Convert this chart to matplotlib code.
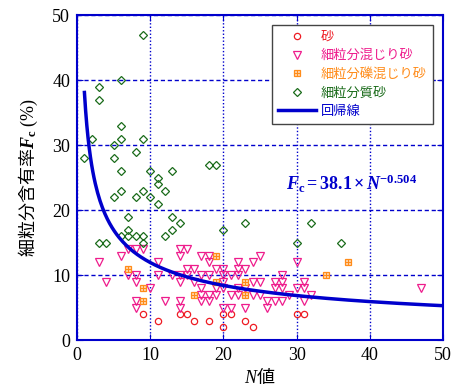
import numpy as np
import matplotlib
matplotlib.use("Agg")
import matplotlib.pyplot as plt
from matplotlib.lines import Line2D

plt.rcParams["font.family"] = ["Liberation Serif", "Noto Sans CJK JP"]
plt.rcParams["mathtext.fontset"] = "custom"
plt.rcParams["mathtext.rm"] = "Liberation Serif"
plt.rcParams["mathtext.sf"] = "Liberation Serif"
plt.rcParams["mathtext.it"] = "Liberation Serif:italic"
plt.rcParams["mathtext.bf"] = "Liberation Serif:bold"
plt.rcParams["mathtext.bfit"] = "Liberation Serif:italic:bold"

# 砂
sand_n = [9, 11, 14, 15, 16, 18, 20, 21, 20, 23, 24, 30, 31]
sand_fc = [4, 3, 4, 4, 3, 3, 4, 4, 2, 3, 2, 4, 4]

# 細粒分混じり砂
mixed_n = [3, 4, 6, 7, 8, 9, 7, 8, 8, 10, 11, 11, 8, 8, 12, 13, 14, 14, 14, 15,
           14, 15, 16, 15, 16, 14, 14, 17, 18, 18, 17, 18, 17, 17, 18, 17, 18, 19,
           19, 20, 20, 21, 20, 19, 20, 21, 22, 20, 21, 22, 22, 23, 22, 22, 23, 24,
           24, 25, 24, 25, 23, 25, 26, 26, 27, 27, 27, 28, 28, 28, 28, 29, 30, 30,
           31, 31, 31, 32, 47]
mixed_fc = [12, 9, 13, 14, 14, 14, 10, 10, 9, 8, 12, 10, 6, 5, 6, 10, 10, 9, 14, 14,
            13, 11, 11, 10, 9, 6, 5, 13, 13, 12, 10, 10, 8, 7, 7, 6, 6, 7,
            11, 11, 10, 10, 9, 8, 8, 7, 7, 5, 5, 12, 11, 11, 10, 8, 8, 12,
            9, 9, 7, 7, 5, 13, 6, 5, 9, 8, 6, 10, 9, 8, 6, 7, 12, 8,
            9, 8, 6, 7, 8]

# 細粒分礫混じり砂
gravel_n = [7, 9, 9, 16, 19, 19, 23, 23, 34, 37]
gravel_fc = [11, 8, 6, 7, 13, 9, 9, 7, 10, 12]

# 細粒分質砂
silty_n = [9, 6, 3, 3, 6, 2, 6, 9, 5, 8, 1, 5, 6, 10, 13, 11, 11, 6, 9, 12, 5, 8,
           10, 11, 7, 13, 14, 7, 13, 6, 7, 8, 9, 12, 9, 3, 4, 18, 19, 20, 23, 30,
           32, 36]
silty_fc = [47, 40, 39, 37, 33, 31, 31, 31, 30, 29, 28, 28, 26, 26, 26, 25, 24, 23,
            23, 23, 22, 22, 22, 21, 19, 19, 18, 17, 17, 16, 16, 16, 16, 16, 15, 15,
            15, 27, 27, 17, 18, 15, 18, 15]

# 回帰線 Fc = 38.1 * N^-0.504
coef_a = 38.1
coef_b = -0.504

fig = plt.figure(figsize=(4.59, 3.87), dpi=100)
ax = fig.add_axes([0.168, 0.121, 0.797, 0.840])

blue = "#0000cc"
c_sand = "#ee1c24"
c_mixed = "#ee1c8c"
c_gravel = "#ff8c1a"
c_silty = "#1a6b1a"

sty_sand = dict(marker="o", ms=4.5, mfc="none", mec=c_sand, mew=0.9)
sty_mixed = dict(marker="v", ms=5.5, mfc="none", mec=c_mixed, mew=0.9)
sty_gr1 = dict(marker="s", ms=5, mfc="#ffd9b3", mec=c_gravel, mew=0.9)
sty_gr2 = dict(marker="+", ms=5, mec=c_gravel, mew=0.8)
sty_silty = dict(marker="D", ms=3.8, mfc="none", mec=c_silty, mew=0.9)

ax.plot(sand_n, sand_fc, ls="none", zorder=3, **sty_sand)
ax.plot(mixed_n, mixed_fc, ls="none", zorder=3, **sty_mixed)
ax.plot(gravel_n, gravel_fc, ls="none", zorder=3, **sty_gr1)
ax.plot(gravel_n, gravel_fc, ls="none", zorder=3, **sty_gr2)
ax.plot(silty_n, silty_fc, ls="none", zorder=3, **sty_silty)

n_line = np.linspace(1, 50, 300)
ax.plot(n_line, coef_a * n_line ** coef_b, color=blue, lw=2.5, zorder=4)

ax.set_xlim(0, 50)
ax.set_ylim(0, 50)
ax.set_xticks(np.arange(0, 51, 10))
ax.set_yticks(np.arange(0, 51, 10))
ax.tick_params(direction="in", top=True, right=True, color=blue, length=4,
               labelsize=13, pad=5)
for s in ax.spines.values():
    s.set_color(blue)
    s.set_linewidth(1.5)
ax.xaxis.grid(True, color=blue, ls=(0, (1, 1.5)), lw=1)
ax.yaxis.grid(True, color=blue, ls=(0, (3, 2)), lw=1)
ax.set_axisbelow(True)

# non-math parts of a mathtext string use the text's own font -> CJK font here
ax.set_xlabel(r"$\mathit{N}$値", fontsize=13, labelpad=1, family="Noto Sans CJK JP")
ax.set_ylabel(r"細粒分含有率$\mathbfit{F}_{\mathbf{c}}$ $\mathsf{(\%)}$", fontsize=13,
              labelpad=9, family="Noto Sans CJK JP")

ax.text(28.6, 23, r"$\mathbfit{F}_{\mathbf{c}}\mathbf{=38.1\times}\mathbfit{N}^{\mathbf{-0.504}}$",
        color=blue, fontsize=13, va="baseline", ha="left", zorder=5)

# legend
h_sand = Line2D([], [], ls="none", **sty_sand)
h_mixed = Line2D([], [], ls="none", **sty_mixed)
h_gr1 = Line2D([], [], ls="none", **sty_gr1)
h_gr2 = Line2D([], [], ls="none", **sty_gr2)
h_silty = Line2D([], [], ls="none", **sty_silty)
h_line = Line2D([], [], color=blue, lw=2.5)
leg = ax.legend([h_sand, h_mixed, (h_gr1, h_gr2), h_silty, h_line],
                ["砂", "細粒分混じり砂", "細粒分礫混じり砂", "細粒分質砂", "回帰線"],
                loc="upper right", bbox_to_anchor=(0.972, 0.97), borderaxespad=0,
                handlelength=2.9, handletextpad=0.35, labelspacing=0.42,
                borderpad=0.45, fancybox=False, framealpha=1,
                edgecolor="#444444", prop={"family": ["Noto Sans CJK JP"], "size": 9.5})
leg.get_frame().set_linewidth(1.0)
for t, c in zip(leg.get_texts(), [c_sand, c_mixed, c_gravel, c_silty, blue]):
    t.set_color(c)

fig.savefig("out.png", dpi=100)
